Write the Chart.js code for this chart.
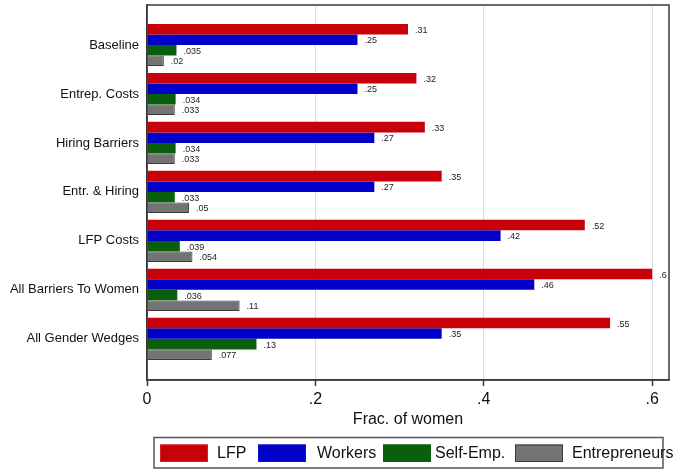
<!DOCTYPE html>
<html>
<head>
<meta charset="utf-8">
<script src="https://cdn.jsdelivr.net/npm/chart.js@4/dist/chart.umd.min.js"></script>
<style>
  body { margin: 0; background: #fff; overflow: hidden; }
</style>
</head>
<body>
<canvas id="bars" width="678" height="471"></canvas>
<script>
// Categories (top to bottom)
const categories = ['Baseline', 'Entrep. Costs', 'Hiring Barriers', 'Entr. & Hiring',
                    'LFP Costs', 'All Barriers To Women', 'All Gender Wedges'];

// Series values - fraction of women
const lfp           = [0.31, 0.32, 0.33, 0.35, 0.52, 0.6, 0.55];
const workers       = [0.25, 0.25, 0.27, 0.27, 0.42, 0.46, 0.35];
const selfEmp       = [0.035, 0.034, 0.034, 0.033, 0.039, 0.036, 0.13];
const entrepreneurs = [0.02, 0.033, 0.033, 0.05, 0.054, 0.11, 0.077];

const seriesNames = ['LFP', 'Workers', 'Self-Emp.', 'Entrepreneurs'];
const xTicks = [0, 0.2, 0.4, 0.6];
const xTickLabels = ['0', '.2', '.4', '.6'];

const FONT = "'Liberation Sans', Arial, Helvetica, sans-serif";

// Stata style number: .31 instead of 0.31
function stataNum(v) {
    return String(v).replace(/^0\./, '.');
}

function toPoints(values) {
    return values.map((v, i) => ({ x: v, y: i }));
}

// Value labels next to each bar
const valueLabels = {
    id: 'valueLabels',
    afterDatasetsDraw(chart) {
        const ctx = chart.ctx;
        ctx.save();
        ctx.font = '9px ' + FONT;
        ctx.fillStyle = '#222';
        ctx.textAlign = 'left';
        ctx.textBaseline = 'middle';
        chart.data.datasets.forEach((ds, di) => {
            chart.getDatasetMeta(di).data.forEach((el, i) => {
                ctx.fillText(stataNum(ds.data[i].x), el.x + 7, el.y + 1);
            });
        });
        ctx.restore();
    }
};

// Frame around the plot region (top and right sides)
const plotFrame = {
    id: 'plotFrame',
    afterDraw(chart) {
        const a = chart.chartArea;
        const ctx = chart.ctx;
        ctx.save();
        ctx.strokeStyle = '#3a3a3a';
        ctx.lineWidth = 1.5;
        ctx.strokeRect(a.left, a.top, a.right - a.left, a.bottom - a.top);
        ctx.restore();
    }
};

// Legend in a box below the axis, drawn like Stata does it
const swatchX = [160, 258, 383, 515];
const textX = [217, 317, 435, 572];
const boxLegend = {
    id: 'boxLegend',
    afterDraw(chart) {
        const ctx = chart.ctx;
        ctx.save();
        ctx.strokeStyle = '#555';
        ctx.lineWidth = 1.5;
        ctx.strokeRect(154, 437.5, 509, 30.5);
        ctx.font = '16px ' + FONT;
        ctx.textBaseline = 'middle';
        chart.data.datasets.forEach((ds, i) => {
            ctx.fillStyle = ds.backgroundColor;
            ctx.fillRect(swatchX[i], 444.5, 48, 17.5);
            ctx.strokeStyle = ds.borderColor;
            ctx.lineWidth = 1;
            ctx.strokeRect(swatchX[i] + 0.5, 445, 47, 16.5);
            ctx.fillStyle = '#111';
            ctx.fillText(ds.label, textX[i], 454);
        });
        ctx.restore();
    }
};

const colors = ['#c8000a', '#0000c8', '#0b5e0b', '#737373'];
const borders = ['#d0202a', '#1010d0', '#0b5e0b', '#3a3a3a'];
const allSeries = [lfp, workers, selfEmp, entrepreneurs];

new Chart(document.getElementById('bars'), {
    type: 'bar',
    data: {
        datasets: allSeries.map((vals, i) => ({
            label: seriesNames[i],
            data: toPoints(vals),
            backgroundColor: colors[i],
            borderColor: borders[i],
            borderWidth: i === 3 ? 1 : 0,
            categoryPercentage: 0.86,
            barPercentage: 1
        }))
    },
    options: {
        indexAxis: 'y',
        responsive: false,
        animation: false,
        layout: { padding: { top: 5, right: 9, left: 0, bottom: 0 } },
        scales: {
            x: {
                type: 'linear',
                min: 0,
                max: 0.62,
                afterFit: s => { s.height = 91; },
                afterBuildTicks: s => { s.ticks = xTicks.map(v => ({ value: v })); },
                ticks: {
                    color: '#111',
                    font: { family: FONT, size: 16 },
                    padding: 4,
                    callback: (v) => xTickLabels[xTicks.indexOf(v)] ?? ''
                },
                grid: { color: '#dcdcdc', lineWidth: 1, tickColor: '#3a3a3a', tickLength: 6, tickWidth: 1.5 },
                border: { color: '#3a3a3a', width: 1.5 },
                title: {
                    display: true,
                    text: 'Frac. of women',
                    color: '#111',
                    font: { family: FONT, size: 16 },
                    padding: { top: 0, bottom: 42 }
                }
            },
            y: {
                type: 'linear',
                reverse: true,
                offset: false,
                min: -0.816,
                max: 6.84,
                // fixed width, and no extra room for half labels at the ends
                afterFit: s => { s.width = 147; s.paddingTop = 0; s.paddingBottom = 0; },
                afterBuildTicks: s => { s.ticks = categories.map((c, i) => ({ value: i })); },
                ticks: {
                    color: '#111',
                    font: { family: FONT, size: 13 },
                    padding: 8,
                    autoSkip: false,
                    callback: (v) => categories[v] ?? ''
                },
                grid: { display: false, offset: false, tickLength: 0 },
                border: { color: '#3a3a3a', width: 1.5 }
            }
        },
        plugins: {
            legend: { display: false },
            tooltip: { enabled: false }
        }
    },
    plugins: [valueLabels, plotFrame, boxLegend]
});
</script>
</body>
</html>
